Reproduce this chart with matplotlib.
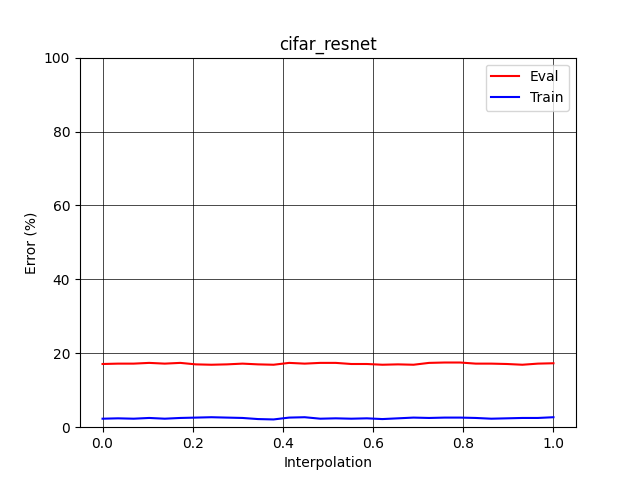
import numpy as np
import matplotlib
matplotlib.use("Agg")
import matplotlib.pyplot as plt

interp = np.linspace(0, 1, 30)
eval_err = [17.1, 17.2, 17.2, 17.4, 17.2, 17.4, 17.0, 16.9, 17.0, 17.2,
            17.0, 16.9, 17.4, 17.2, 17.4, 17.4, 17.1, 17.1, 16.9, 17.0,
            16.9, 17.4, 17.5, 17.5, 17.2, 17.2, 17.1, 16.9, 17.2, 17.3]
train_err = [2.3, 2.4, 2.3, 2.5, 2.3, 2.5, 2.6, 2.7, 2.6, 2.5,
             2.2, 2.1, 2.6, 2.7, 2.3, 2.4, 2.3, 2.4, 2.2, 2.4,
             2.6, 2.5, 2.6, 2.6, 2.5, 2.3, 2.4, 2.5, 2.5, 2.7]

fig, ax = plt.subplots(figsize=(6.4, 4.8), dpi=100)
ax.plot(interp, eval_err, color="red", label="Eval")
ax.plot(interp, train_err, color="blue", label="Train")
ax.set_ylim(0, 100)
ax.set_xlabel("Interpolation")
ax.set_ylabel("Error (%)")
ax.set_title("cifar_resnet")
ax.grid(True, color="black", lw=0.5)
ax.legend(loc="upper right")
plt.savefig("out.png", dpi=100)
